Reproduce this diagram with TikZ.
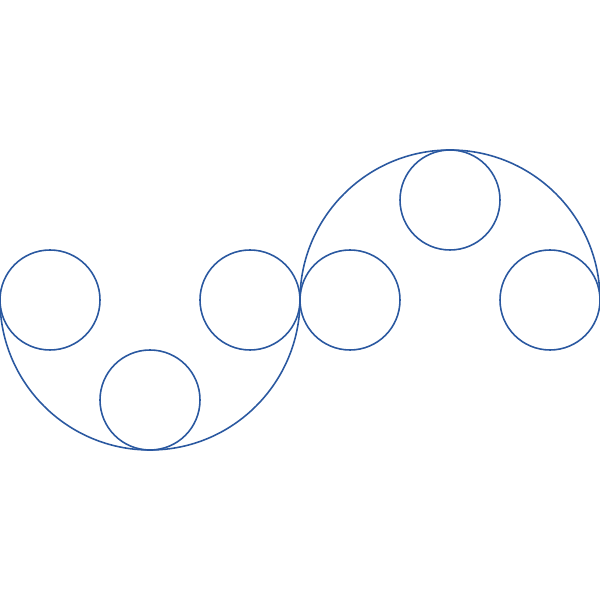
\documentclass[tikz,border=0pt]{standalone}
\usepackage{tikz}
\usetikzlibrary{
  calc,
}
\definecolor{ringblue}{RGB}{42, 88, 160}
\tikzstyle{ring} = [
  ringblue,
  line width=0.45pt,
]

\begin{document}
\begin{tikzpicture}[x=0.1mm, y=0.1mm]

        \useasboundingbox (0,0) rectangle (600,600);

        % Big halves
        \draw [ring] (0,300) arc [start angle=180, end angle=360, radius=150];
        \draw [ring] (300,300) arc [start angle=180, end angle=0, radius=150];

        % Small circles
        \foreach \x/\y in {50/300, 150/200, 250/300, 350/300, 450/400, 550/300} {
          \draw [ring] (\x,\y) circle [radius=50];
        }
      \end{tikzpicture}
\end{document}
